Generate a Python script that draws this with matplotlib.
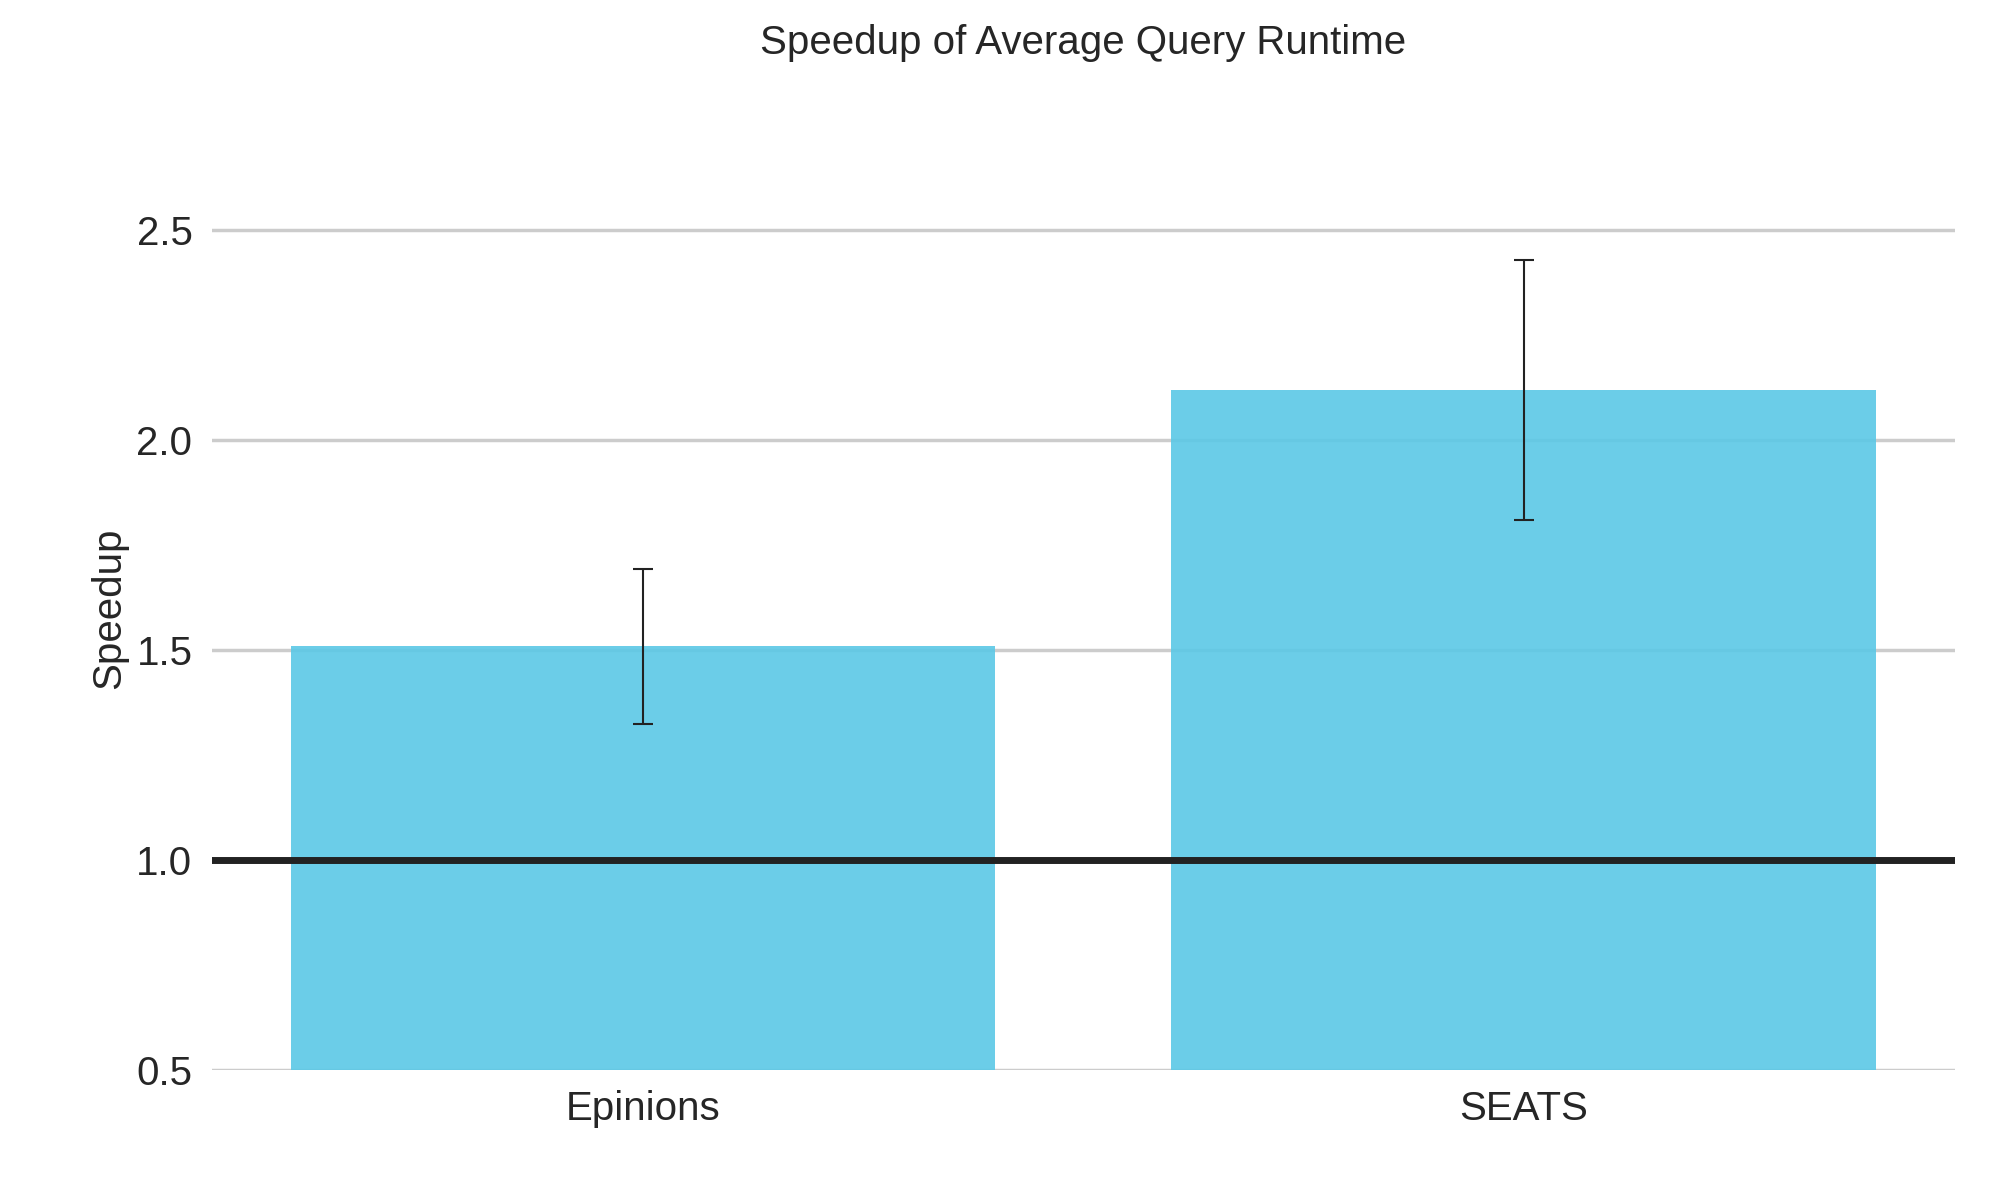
import matplotlib.pyplot as plt

plt.rcParams['font.family'] = 'Liberation Sans'

categories = ['Epinions', 'SEATS']
speedup = [1.51, 2.12]
speedup_err = [0.185, 0.31]
yticks = [0.5, 1.0, 1.5, 2.0, 2.5]

fig = plt.figure(figsize=(19.99, 12), dpi=100)
ax = fig.add_axes([0.106, 0.108, 0.872, 0.77])

ax.bar(range(len(categories)), speedup, width=0.8, color='#5bc8e6', alpha=0.9,
       yerr=speedup_err, error_kw=dict(ecolor='#222222', elinewidth=1.5, capsize=7, capthick=1.5),
       zorder=2)
ax.axhline(1.0, color='#222222', linewidth=5, zorder=3)

ax.set_xlim(-0.49, 1.49)
ax.set_ylim(0.5, 2.7)
ax.set_yticks(yticks)
ax.set_yticklabels([f'{t:.1f}' for t in yticks])
ax.set_xticks(range(len(categories)))
ax.set_xticklabels(categories)
ax.grid(axis='y', color='#cccccc', linewidth=2.5, zorder=0)
ax.set_axisbelow(True)
for s in ax.spines.values():
    s.set_visible(False)
ax.tick_params(axis='both', length=0, labelsize=29, colors='#262626', pad=14)
ax.set_ylabel('Speedup', fontsize=29, color='#262626', labelpad=6)
ax.set_title('Speedup of Average Query Runtime', fontsize=29, color='#262626', pad=0, y=1.1)

fig.savefig('out.png', dpi=100)
